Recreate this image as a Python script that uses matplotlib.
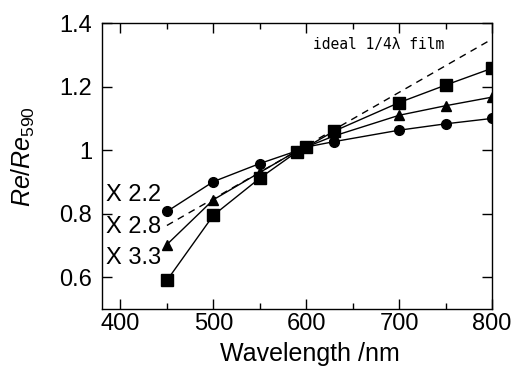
import matplotlib
matplotlib.use("Agg")
import matplotlib.pyplot as plt
from matplotlib.ticker import MultipleLocator, FuncFormatter

wl = [450, 500, 550, 590, 600, 630, 700, 750, 800]
s22 = [0.807, 0.901, 0.958, 0.998, 1.010, 1.027, 1.063, 1.083, 1.100]
s28 = [0.703, 0.844, 0.930, 0.998, 1.010, 1.045, 1.110, 1.140, 1.167]
s33 = [0.590, 0.795, 0.912, 0.995, 1.010, 1.060, 1.150, 1.205, 1.258]
ideal_x = [450, 800]
ideal_y = [0.763, 1.350]
labels = ["X 2.2", "X 2.8", "X 3.3"]

plt.rcParams['font.family'] = ['Liberation Sans', 'DejaVu Sans']
plt.rcParams['mathtext.fontset'] = 'custom'
plt.rcParams['mathtext.it'] = 'Liberation Sans:italic'
plt.rcParams['mathtext.rm'] = 'Liberation Sans'

fig = plt.figure(figsize=(5.17, 3.67), dpi=100)
ax = fig.add_axes([0.197, 0.158, 0.755, 0.779])

ax.plot(ideal_x, ideal_y, color='black', lw=1.0, ls=(0, (5, 4)))
ax.plot(wl, s22, color='black', lw=1.0, marker='o', ms=7)
ax.plot(wl, s28, color='black', lw=1.0, marker='^', ms=7)
ax.plot(wl, s33, color='black', lw=1.0, marker='s', ms=9)

ax.set_xlim(380, 800)
ax.set_ylim(0.5, 1.4)
ax.xaxis.set_major_locator(MultipleLocator(100))
ax.xaxis.set_minor_locator(MultipleLocator(50))
ax.yaxis.set_major_locator(MultipleLocator(0.2))
ax.yaxis.set_major_formatter(FuncFormatter(lambda v, p: ('%g' % round(v, 2))))
ax.tick_params(which='major', direction='in', length=7, width=1, top=True, right=True,
               labelsize=17)
ax.tick_params(axis='y', which='major', pad=7)
ax.tick_params(axis='x', which='major', pad=3)
ax.tick_params(which='minor', direction='in', length=4, width=1, top=True, right=False)
for sp in ax.spines.values():
    sp.set_linewidth(1.0)

ax.set_xlabel('Wavelength /nm', fontsize=18, labelpad=0)
ax.xaxis.set_label_coords(0.533, -0.115)
ax.set_ylabel(r'$\mathit{Re/Re}_{\mathrm{590}}$', fontsize=18)
ax.yaxis.set_label_coords(-0.165, 0.535)

ax.text(0.01, 0.40, labels[0], transform=ax.transAxes, fontsize=17, va='center')
ax.text(0.01, 0.287, labels[1], transform=ax.transAxes, fontsize=17, va='center')
ax.text(0.01, 0.18, labels[2], transform=ax.transAxes, fontsize=17, va='center')

ax.text(0.54, 0.925, 'ideal 1/4λ film', transform=ax.transAxes, fontsize=10.5,
        family=['DejaVu Sans Mono'], va='center')

fig.savefig('out.png', dpi=100)
